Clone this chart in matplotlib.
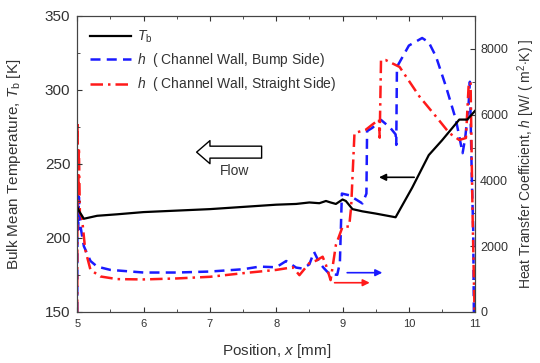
import matplotlib
matplotlib.use('Agg')
import matplotlib.pyplot as plt
from matplotlib.ticker import MultipleLocator

plt.rcParams['font.family'] = ['Liberation Sans', 'DejaVu Sans']
plt.rcParams['mathtext.fontset'] = 'custom'
plt.rcParams['mathtext.it'] = 'Liberation Sans:italic'
plt.rcParams['mathtext.rm'] = 'Liberation Sans'

# bulk mean temperature (left axis)
x_tb = [5.0, 5.03, 5.1, 5.3, 5.6, 6.0, 6.5, 7.0, 7.5, 8.0, 8.3, 8.5, 8.65, 8.75,
        8.82, 8.9, 9.0, 9.05, 9.15, 9.3, 9.5, 9.8, 10.05, 10.3, 10.5, 10.76, 10.88, 11.0]
tb = [221, 218, 213, 215, 216, 217.5, 218.5, 219.5, 221, 222.5, 223, 224, 223.5, 225,
      224, 223, 226, 225, 219.5, 218, 216.5, 214, 234, 256, 266, 280, 280, 286]

# heat transfer coefficient, bump side (right axis)
x_bump = [5.0, 5.005, 5.015, 5.025, 5.05, 5.1, 5.2, 5.3, 5.5, 6.0, 6.5, 7.0, 7.5, 7.75,
          8.0, 8.15, 8.3, 8.4, 8.5, 8.57, 8.65, 8.72, 8.8, 8.92, 8.96, 8.99, 9.1, 9.3,
          9.36, 9.37, 9.45, 9.58, 9.72, 9.8, 9.81, 9.82, 10.0, 10.2, 10.3, 10.41, 10.56,
          10.71, 10.81, 10.85, 10.9, 10.92, 10.95, 10.97, 10.98]
h_bump = [0, 4000, 2500, 3500, 2600, 2000, 1550, 1380, 1280, 1200, 1200, 1230, 1300, 1380,
          1360, 1550, 1350, 1320, 1450, 1830, 1500, 1330, 1160, 1130, 1500, 3600, 3550, 3300,
          3600, 5500, 5600, 5840, 5600, 5400, 5080, 7450, 8100, 8330, 8200, 7760, 6850,
          5840, 4830, 5300, 6300, 7000, 4000, 2500, 0]

# heat transfer coefficient, straight side (right axis)
x_str = [5.0, 5.005, 5.015, 5.025, 5.04, 5.07, 5.12, 5.2, 5.35, 5.6, 6.0, 6.5, 7.0, 7.5,
         8.0, 8.25, 8.35, 8.5, 8.6, 8.7, 8.75, 8.82, 8.9, 9.0, 9.1, 9.13, 9.18, 9.35, 9.45,
         9.55, 9.56, 9.58, 9.65, 9.86, 10.16, 10.41, 10.61, 10.76, 10.86, 10.9, 10.93,
         10.96, 10.99]
h_str = [0, 5780, 3500, 5000, 3000, 2900, 1900, 1280, 1080, 1000, 990, 1020, 1070, 1180,
         1280, 1360, 1120, 1490, 1560, 1680, 1430, 970, 2040, 2590, 2600, 3200, 5440, 5540,
         5700, 5850, 5300, 7660, 7660, 7450, 6550, 5940, 5440, 5230, 5290, 6850, 7000,
         3000, 0]

fig = plt.figure(figsize=(5.4, 3.63), dpi=100)
ax = fig.add_axes([0.143, 0.1405, 0.737, 0.8155])
ax2 = ax.twinx()

l1, = ax.plot(x_tb, tb, color='black', lw=1.6, label=r'$T_\mathrm{b}$')
l2, = ax2.plot(x_bump, h_bump, color='#1a1aff', lw=1.8, ls=(0, (4, 2.5)),
               label=r'$h$  ( Channel Wall, Bump Side)')
l3, = ax2.plot(x_str, h_str, color='#ff1a1a', lw=1.8, ls=(0, (5, 2, 1, 2)),
               label=r'$h$  ( Channel Wall, Straight Side)')
ax.set_zorder(ax2.get_zorder() + 1)
ax.patch.set_visible(False)

ax.set_xlim(5, 11)
ax.set_ylim(150, 350)
ax2.set_ylim(0, 9000)
ax.xaxis.set_major_locator(MultipleLocator(1))
ax.xaxis.set_minor_locator(MultipleLocator(0.5))
ax.yaxis.set_major_locator(MultipleLocator(50))
ax.yaxis.set_minor_locator(MultipleLocator(25))
ax2.yaxis.set_major_locator(MultipleLocator(2000))
ax2.yaxis.set_minor_locator(MultipleLocator(1000))

ax.tick_params(axis='both', which='both', direction='in', top=True, colors='#333333')
ax.tick_params(axis='x', labelsize=8, pad=5)
ax.tick_params(axis='y', labelsize=11, pad=5)
ax2.tick_params(axis='y', which='both', direction='in', colors='#333333', labelsize=9)
for a in (ax, ax2):
    for s in a.spines.values():
        s.set_color('#444444')

ax.set_xlabel(r'Position, $x$ [mm]', fontsize=11, color='#333333')
ax.set_ylabel(r'Bulk Mean Temperature, $T_\mathrm{b}$ [K]', fontsize=11, color='#333333')
ax2.set_ylabel(r'Heat Transfer Coefficient, $h$ [W/ ( m$^2$$\cdot$K) ]', fontsize=10,
               color='#333333')
ax.xaxis.set_label_coords(0.5, -0.1)
ax.yaxis.set_label_coords(-0.135, 0.5)
ax2.yaxis.set_label_coords(1.10, 0.5)

ax.legend(handles=[l1, l2, l3], loc='upper left', frameon=False, fontsize=10,
          handlelength=3.0, handletextpad=0.4, labelspacing=0.45, borderaxespad=0.5,
          labelcolor='#333333')

# direction arrows
ax.annotate('', xy=(9.55, 241), xytext=(10.08, 241),
            arrowprops=dict(arrowstyle='-|>', color='black', lw=1.2, shrinkA=0, shrinkB=0))
ax2.annotate('', xy=(9.6, 1195), xytext=(9.07, 1195),
             arrowprops=dict(arrowstyle='-|>', color='#1a1aff', lw=1.2, shrinkA=0, shrinkB=0))
ax2.annotate('', xy=(9.41, 890), xytext=(8.88, 890),
             arrowprops=dict(arrowstyle='-|>', color='#ff1a1a', lw=1.2, shrinkA=0, shrinkB=0))

# hollow flow arrow
ax.annotate('', xy=(6.8, 258), xytext=(7.78, 258),
            arrowprops=dict(arrowstyle='simple,head_length=0.48,head_width=0.83,tail_width=0.43',
                            fc='white', ec='black', lw=1.0, mutation_scale=20,
                            shrinkA=0, shrinkB=0))
ax.text(7.37, 245, 'Flow', ha='center', va='center', fontsize=10, color='#333333')

fig.savefig('out.png', dpi=100)
